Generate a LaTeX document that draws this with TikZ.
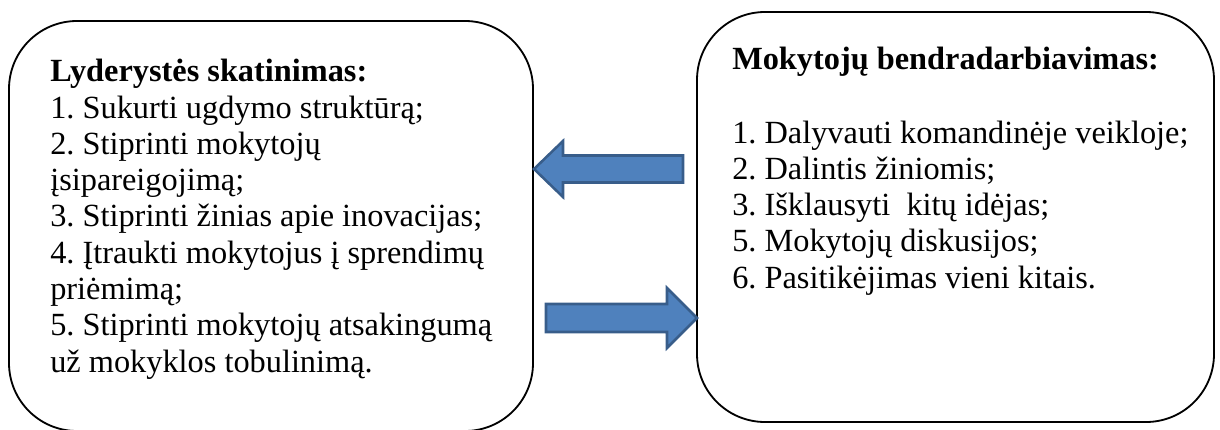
\documentclass[tikz,border=0pt]{standalone}
\usepackage{fontspec}
\setmainfont{Liberation Serif}
\frenchspacing
\definecolor{arrowfill}{HTML}{4F81BD}
\definecolor{arrowline}{HTML}{385D8A}
\tikzset{
	langas/.style={draw=black,line width=1.3pt,rounded corners=1.7cm},
	tekstas/.style={anchor=base west,align=left,inner sep=0pt,font=\fontsize{23}{25.8}\selectfont},
	rodykle/.style={fill=arrowfill,draw=arrowline,line width=1.8pt,line join=miter}
}
\begin{document}
\begin{tikzpicture}
		\useasboundingbox (0,0) rectangle (30.5,10.725);
		% langai
		\draw [langas] (.225,-.05) rectangle (13.325,10.2);
		\draw [langas] (17.425,.175) rectangle (30.35,10.425);
		% rodykles
		\draw [rodykle] (13.35,6.5)--(14.075,7.2)--(14.075,6.8375)--(17.075,6.8375)
			--(17.075,6.1625)--(14.075,6.1625)--(14.075,5.8)--cycle;
		\draw [rodykle] (17.425,2.775)--(16.675,3.525)--(16.675,3.125)--(13.65,3.125)
			--(13.65,2.425)--(16.675,2.425)--(16.675,2.025)--cycle;
		% tekstai (base = paskutine eilute)
		\node (lyd) [tekstas] at (1.25,1.425) {\textbf{Lyderystės skatinimas:}\\
			1. Sukurti ugdymo struktūrą;\\
			2. Stiprinti mokytojų\\
			įsipareigojimą;\\
			3. Stiprinti žinias apie inovacijas;\\
			4. Įtraukti mokytojus į sprendimų\\
			priėmimą;\\
			5. Stiprinti mokytojų atsakingumą\\
			už mokyklos tobulinimą.};
		\node (mokAntr) [tekstas] at (18.3,8.98) {\textbf{Mokytojų bendradarbiavimas:}};
		\node (mokSar) [tekstas] at (18.3,3.52) {1. Dalyvauti komandinėje veikloje;\\
			2. Dalintis žiniomis;\\
			3. Išklausyti\ \ kitų idėjas;\\
			5. Mokytojų diskusijos;\\
			6. Pasitikėjimas vieni kitais.};
\end{tikzpicture}
\end{document}
